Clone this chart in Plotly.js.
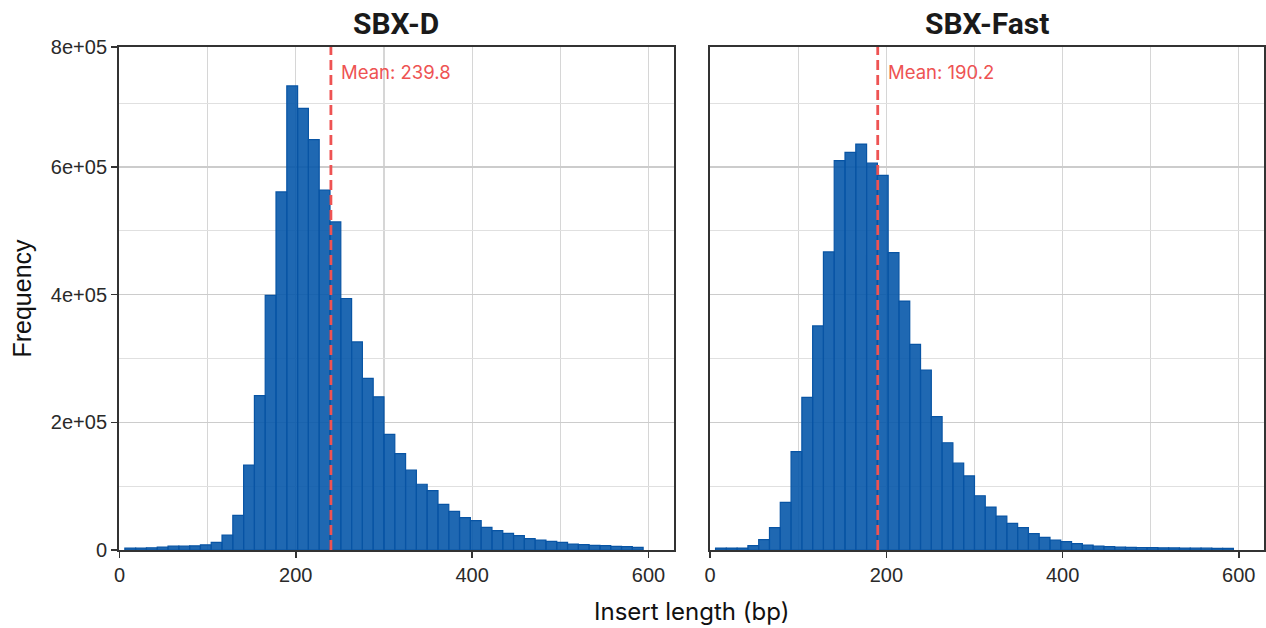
<!DOCTYPE html>
<html>
<head>
<meta charset="utf-8">
<script src="https://cdn.plot.ly/plotly-3.0.1.min.js"></script>
<style>html,body{margin:0;padding:0;background:#fff;}#chart{width:1266px;height:628px;}</style>
</head>
<body>
<div id="chart"></div>
<script>
// Histogram bins: width 12.245 bp, first visible bin centred at 12.245
const binWidth = 12.245;
const firstBinCenter = 12.245;

const panelTitles = ["SBX-D", "SBX-Fast"];
const meanValues = [239.8, 190.2];

const sbxD = [3000, 3000, 3500, 4500, 6000, 6000, 6500, 8000, 12000, 23500,
  54300, 133000, 242000, 399000, 561000, 727000, 692000, 643000, 564000, 514000,
  394000, 326000, 269000, 240000, 181000, 151000, 125000, 103000, 92900, 71500,
  60600, 50600, 45900, 35500, 30300, 26100, 22400, 17700, 15700, 13600,
  12000, 9400, 8300, 7300, 6800, 5700, 5200, 4200];

const sbxFast = [3000, 3000, 3000, 6800, 16200, 35000, 74600, 154000, 239000, 351000,
  467000, 610000, 623000, 636000, 606000, 587000, 466000, 390000, 322000, 282000,
  209000, 168000, 136000, 116000, 85000, 67300, 53200, 41800, 35000, 25600,
  19800, 15700, 13000, 9900, 7800, 6300, 5200, 4700, 4200, 3900,
  3600, 3400, 3200, 3000, 2900, 2800, 2700, 2600];

const xTickVals = [0, 200, 400, 600];
const xTickText = ["0", "200", "400", "600"];
const yTickVals = [0, 200000, 400000, 600000, 788000];
const yTickText = ["0", "2e+05", "4e+05", "6e+05", "8e+05"];
const yMinorVals = [100000, 300000, 500000, 700000];

const barFill = "rgba(7,88,170,0.9)";
const barLine = "rgb(8,84,164)";
const meanColor = "#ee5353";
const tickFont = {family: "Liberation Sans", size: 20, color: "#2a2a2a"};

const series = [sbxD, sbxFast];
const traces = series.map((vals, i) => ({
  type: "bar",
  x0: firstBinCenter,
  dx: binWidth,
  y: vals,
  width: binWidth,
  xaxis: i === 0 ? "x" : "x2",
  yaxis: i === 0 ? "y" : "y2",
  marker: {color: barFill, line: {color: barLine, width: 1.2}},
  hoverinfo: "x+y",
  showlegend: false
}));

const xaxisBase = {
  range: [-0.5, 628.6],
  tickmode: "array",
  tickvals: xTickVals,
  ticktext: xTickText,
  ticks: "outside",
  ticklen: 6,
  tickwidth: 1.5,
  tickcolor: "#333",
  showgrid: false,
  minor: {dtick: 100, tick0: 0, showgrid: true, gridcolor: "#d6d6d6", gridwidth: 1.2, ticks: ""},
  showline: true,
  linecolor: "#333",
  linewidth: 2,
  mirror: true,
  zeroline: false,
  tickfont: tickFont
};

const yaxisBase = {
  range: [0, 788000],
  tickmode: "array",
  tickvals: yTickVals,
  ticktext: yTickText,
  ticks: "outside",
  ticklen: 6,
  tickwidth: 1.5,
  tickcolor: "#333",
  showgrid: true,
  gridcolor: "#cccccc",
  gridwidth: 1.6,
  minor: {tickmode: "array", tickvals: yMinorVals, showgrid: true, gridcolor: "#e0e0e0", gridwidth: 1.2, ticks: ""},
  showline: true,
  linecolor: "#333",
  linewidth: 2,
  mirror: true,
  zeroline: false,
  tickfont: tickFont
};

const layout = {
  width: 1266,
  height: 628,
  margin: {l: 119, r: 2, t: 47, b: 78},
  paper_bgcolor: "#fff",
  plot_bgcolor: "#fff",
  bargap: 0,
  xaxis: Object.assign({}, xaxisBase, {domain: [0, 0.4845], anchor: "y"}),
  xaxis2: Object.assign({}, xaxisBase, {domain: [0.5159, 1], anchor: "y2"}),
  yaxis: Object.assign({}, yaxisBase, {
    domain: [0, 1], anchor: "x",
    title: {text: "Frequency", font: {family: "Liberation Sans", size: 25, color: "#111"}, standoff: 12}
  }),
  yaxis2: Object.assign({}, yaxisBase, {domain: [0, 1], anchor: "x2", showticklabels: false, ticks: ""}),
  shapes: meanValues.map((m, i) => ({
    type: "line",
    xref: i === 0 ? "x" : "x2",
    yref: i === 0 ? "y domain" : "y2 domain",
    x0: m, x1: m, y0: 0, y1: 1,
    line: {color: meanColor, width: 2.8, dash: "10px,5px"},
    layer: "above"
  })),
  annotations: [
    ...panelTitles.map((t, i) => ({
      text: "<b>" + t + "</b>",
      xref: i === 0 ? "x domain" : "x2 domain",
      yref: "paper",
      x: 0.5, y: 1, yanchor: "bottom", yshift: 4,
      showarrow: false,
      font: {family: "Roboto, sans-serif", size: 30, color: "#1a1a1a"}
    })),
    ...meanValues.map((m, i) => ({
      text: "Mean: " + m.toFixed(1),
      xref: i === 0 ? "x" : "x2",
      yref: i === 0 ? "y domain" : "y2 domain",
      x: m, y: 1, xanchor: "left", yanchor: "top",
      xshift: 8, yshift: -12,
      showarrow: false,
      font: {family: "Inter, sans-serif", size: 18.5, color: meanColor}
    })),
    {
      text: "Insert length (bp)",
      xref: "paper", yref: "paper",
      x: 0.5, y: 0, yanchor: "top", yshift: -45,
      showarrow: false,
      font: {family: "Inter, sans-serif", size: 24, color: "#111"}
    }
  ]
};

Plotly.newPlot("chart", traces, layout, {displayModeBar: false, staticPlot: true});
</script>
</body>
</html>
